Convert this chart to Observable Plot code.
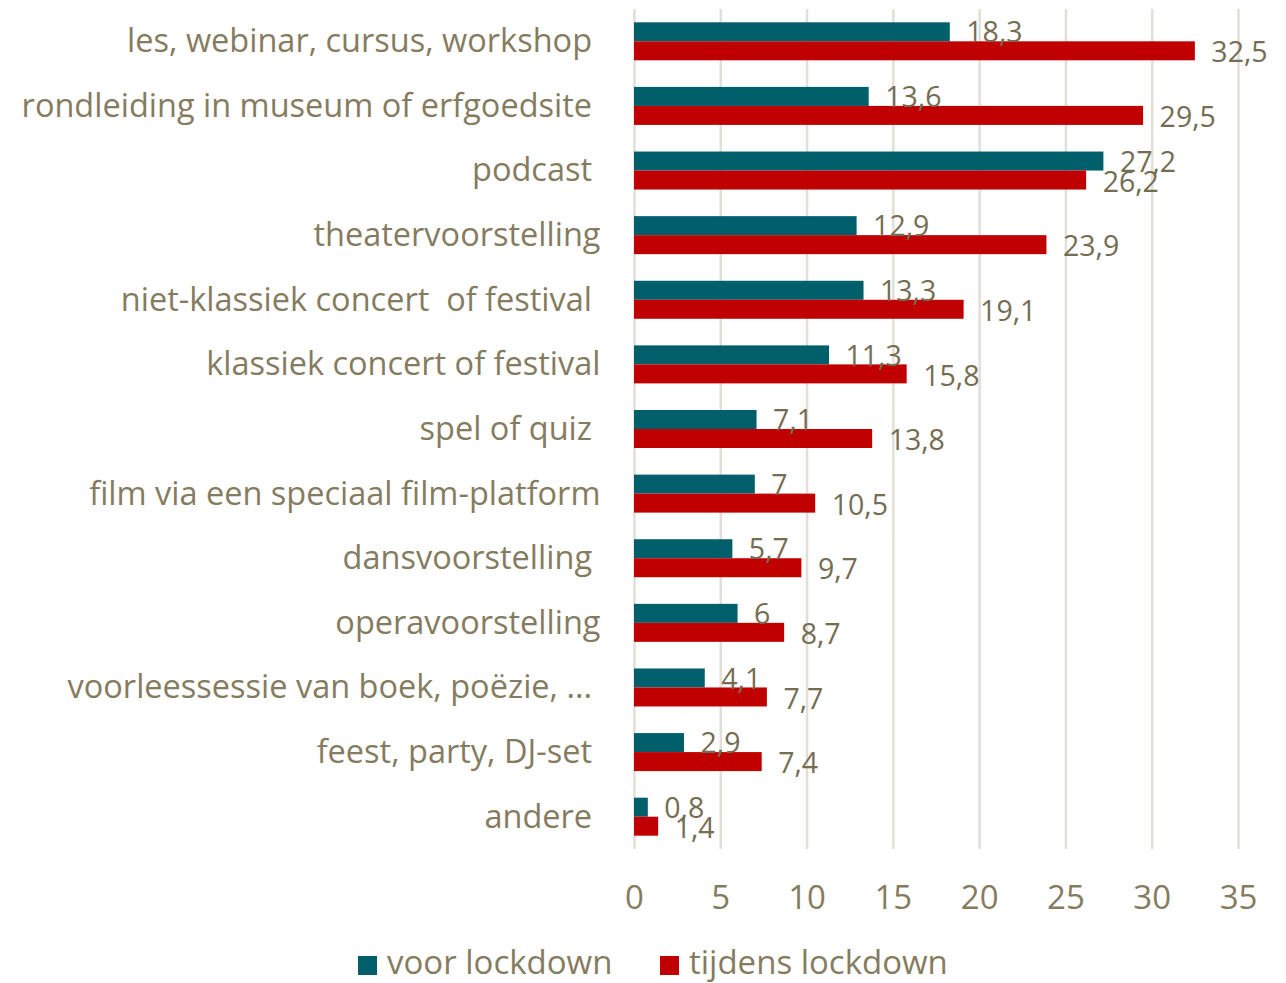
<!DOCTYPE html>
<html>
<head>
<meta charset="utf-8">
<script src="https://cdn.jsdelivr.net/npm/d3@7"></script>
<script src="https://cdn.jsdelivr.net/npm/@observablehq/plot@0.6"></script>
<style>
  html, body { margin: 0; padding: 0; background: #fff; }
  body { position: relative; width: 1286px; height: 983px; overflow: hidden; font-family: "Open Sans", sans-serif; }
  #chart svg { display: block; }
  #legend { position: absolute; left: 0; top: 945px; width: 1286px; height: 33px; }
  .item { position: absolute; top: 0; height: 33px; display: flex; align-items: center; font-size: 33px; line-height: 1; color: #857c5f; white-space: nowrap; }
  .sw { width: 19px; height: 19px; margin-right: 10px; position: relative; top: 4px; }
</style>
</head>
<body>
<div id="chart"></div>
<div id="legend"></div>
<script>
const categories = [
  "les, webinar, cursus, workshop ",
  "rondleiding in museum of erfgoedsite ",
  "podcast ",
  "theatervoorstelling",
  "niet-klassiek concert  of festival ",
  "klassiek concert of festival",
  "spel of quiz ",
  "film via een speciaal film-platform",
  "dansvoorstelling ",
  "operavoorstelling",
  "voorleessessie van boek, poëzie, ... ",
  "feest, party, DJ-set ",
  "andere "
];
const seriesNames = ["voor lockdown", "tijdens lockdown"];
const voorLockdown = [18.3, 13.6, 27.2, 12.9, 13.3, 11.3, 7.1, 7, 5.7, 6, 4.1, 2.9, 0.8];
const tijdensLockdown = [32.5, 29.5, 26.2, 23.9, 19.1, 15.8, 13.8, 10.5, 9.7, 8.7, 7.7, 7.4, 1.4];
const xTicks = [0, 5, 10, 15, 20, 25, 30, 35];
const colors = ["#005f6b", "#c00000"];

const voorData = categories.map((c, i) => ({category: c, series: seriesNames[0], value: voorLockdown[i]}));
const tijdensData = categories.map((c, i) => ({category: c, series: seriesNames[1], value: tijdensLockdown[i]}));

const fmt = v => String(v).replace(".", ",");
const textColor = "#857c5f";
const bandH = 840 / categories.length;
const barH = 19;
const inset = (bandH - barH) / 2;

const chart = Plot.plot({
  width: 1286,
  height: 935,
  marginLeft: 634,
  marginRight: 48,
  marginTop: 9,
  marginBottom: 86,
  style: {fontFamily: "'Open Sans', sans-serif", color: textColor, background: "#fff"},
  x: {domain: [0, 35], label: null},
  y: {domain: categories, padding: 0, round: false, label: null},
  marks: [
    Plot.gridX(xTicks, {stroke: "#e2dfd6", strokeOpacity: 1, strokeWidth: 2.5}),
    Plot.barX(voorData, {y: "category", x: "value", fill: colors[0], insetTop: inset, insetBottom: inset, dy: -barH / 2}),
    Plot.barX(tijdensData, {y: "category", x: "value", fill: colors[1], insetTop: inset, insetBottom: inset, dy: barH / 2}),
    Plot.text(voorData, {y: "category", x: "value", text: d => fmt(d.value), textAnchor: "start", dx: 16, dy: -barH / 2 + 1, fontSize: 28.5, fill: "#746d52"}),
    Plot.text(tijdensData, {y: "category", x: "value", text: d => fmt(d.value), textAnchor: "start", dx: 16, dy: barH / 2 + 2, fontSize: 28.5, fill: "#746d52"}),
    Plot.axisX(xTicks, {anchor: "bottom", tickSize: 0, tickPadding: 36, fontSize: 33, fill: textColor, label: null}),
    Plot.axisY({anchor: "left", tickSize: 0, tickPadding: 34, fontSize: 32.5, fill: textColor, label: null,
      tickFormat: d => d.replace(/ /g, "\u00a0")})
  ]
});
document.getElementById("chart").appendChild(chart);

const legend = document.getElementById("legend");
const legendPos = [358, 660];
seriesNames.forEach((name, i) => {
  const item = document.createElement("div");
  item.className = "item";
  item.style.left = legendPos[i] + "px";
  const sw = document.createElement("span");
  sw.className = "sw";
  sw.style.background = colors[i];
  item.appendChild(sw);
  item.appendChild(document.createTextNode(name));
  legend.appendChild(item);
});
</script>
</body>
</html>
